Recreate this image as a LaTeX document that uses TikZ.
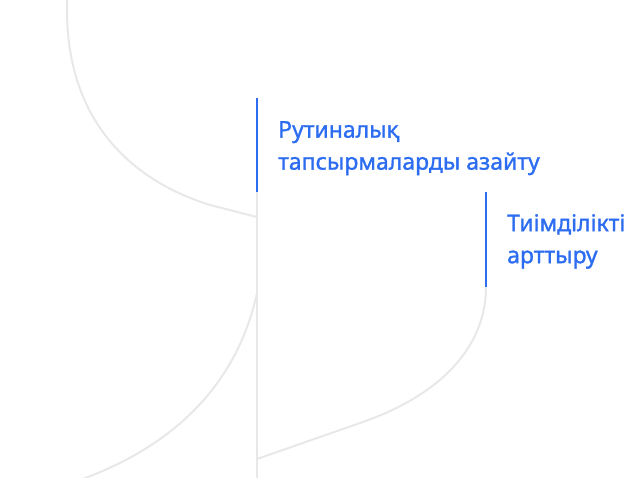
\documentclass[tikz,border=0pt]{standalone}
\usepackage{fontspec}
\setmainfont{Noto Sans}
\newfontfamily\stepfont{Noto Sans}[FakeBold=1.2]
\usetikzlibrary{positioning}
\definecolor{accentblue}{RGB}{43,108,240}
\definecolor{linegray}{RGB}{232,232,232}

\begin{document}
\begin{tikzpicture}
    [%%%%%%%%%%%%%%%%%%%%%%%%%%%%%%
    x=1pt,y=-1pt,
    track/.style={draw=linegray,line width=2pt},
    mark line/.style={draw=accentblue,line width=2pt},
    label/.style={text=accentblue,font=\stepfont\fontsize{23}{32}\selectfont,align=left,inner sep=0pt,anchor=north west},
    ]%%%%%%%%%%%%%%%%%%%%%%%%%%%%%%

    \useasboundingbox (0,0) rectangle (640,477);
    \clip (0,0) rectangle (640,477);

    % gray tracks
    \draw[track] (67,-5) -- (67,10) .. controls (67,120) and (130,180) .. (210,205) -- (257,217);
    \draw[track] (257,293) .. controls (240,370) and (190,440) .. (80,480);
    \draw[track] (257,459) -- (360,423) .. controls (450,392) and (486,340) .. (486,287);

    % points on the line
    \coordinate (top1) at (257,98);
    \coordinate (bot1) at (257,192);
    \coordinate (end) at (257,480);
    \coordinate (top2) at (486,192);
    \coordinate (bot2) at (486,287);
    \draw[track] (bot1) -- (end);

    % first step
    \node[label] at (278,121) (routine) {Рутиналық\\тапсырмаларды азайту};
    \draw[mark line] (top1) -- (bot1);

    % second step
    \node[label] at (507,214) (effect) {Тиімділікті\\арттыру};
    \draw[mark line] (top2) -- (bot2);

\end{tikzpicture}
\end{document}
